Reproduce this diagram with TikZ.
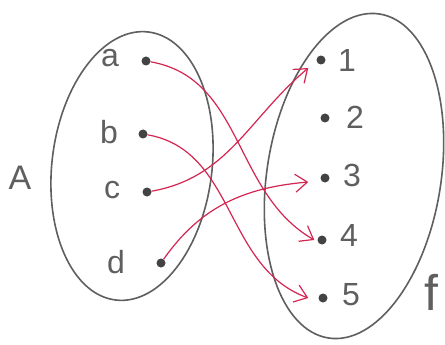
\documentclass[tikz,border=0pt]{standalone}
\usepackage{fontspec}
\setmainfont{Liberation Sans}
\usetikzlibrary{shapes.geometric,arrows.meta}
\definecolor{pencil}{RGB}{95,95,95}
\definecolor{redink}{RGB}{212,38,82}
\tikzset{
  setshape/.style={draw=pencil, line width=1.6pt, ellipse, inner sep=0pt},
  elem/.style={circle, fill=pencil!70!black, inner sep=0pt, minimum size=9pt},
  lab/.style={text=pencil, inner sep=0pt, font=\fontsize{32}{36}\selectfont},
  maparrow/.style={draw=redink, line width=1.2pt, -{Straight Barb[length=12pt,width=18pt]}},
}
\begin{document}
\begin{tikzpicture}[x=1pt,y=1pt]
\useasboundingbox (0,0) rectangle (445,-345);
\fill[white] (0,0) rectangle (445,-345);
% sets
\node[setshape, minimum width=160pt, minimum height=270pt, rotate=-7] (setA) at (132,-166) {};
\node[setshape, minimum width=174pt, minimum height=328pt, rotate=-9] (setB) at (354,-176) {};
% labels
\node[lab, font=\fontsize{34}{38}\selectfont] (labA) at (20,-178) {A};
\node[lab] (la) at (110,-58) {a};
\node[lab] (lb) at (109,-132) {b};
\node[lab] (lc) at (112,-190) {c};
\node[lab] (ld) at (116,-262) {d};
\node[lab] (l1) at (347,-60) {1};
\node[lab] (l2) at (355,-117) {2};
\node[lab] (l3) at (352,-175) {3};
\node[lab] (l4) at (349,-235) {4};
\node[lab] (l5) at (351,-295) {5};
\node[lab, font=\fontsize{50}{54}\selectfont] (lf) at (431,-292) {f};
% elements
\node[elem] (a) at (146,-61) {};
\node[elem] (b) at (143,-134) {};
\node[elem] (c) at (147,-192) {};
\node[elem] (d) at (161,-263) {};
\node[elem] (e1) at (321,-60) {};
\node[elem] (e2) at (325,-118) {};
\node[elem] (e3) at (325,-178) {};
\node[elem] (e4) at (322,-240) {};
\node[elem] (e5) at (323,-298) {};
% arrows
\draw[maparrow] (a) to[out=-10, in=150] ([xshift=-3pt]e4.west);
\draw[maparrow] (b) to[out=-10, in=160] ([xshift=-10pt]e5.west);
\draw[maparrow] (c) to[out=10, in=220] ([xshift=-8pt,yshift=-8pt]e1.west);
\draw[maparrow] (d) to[out=55, in=185] ([xshift=-12pt,yshift=-4pt]e3.west);
\end{tikzpicture}
\end{document}
